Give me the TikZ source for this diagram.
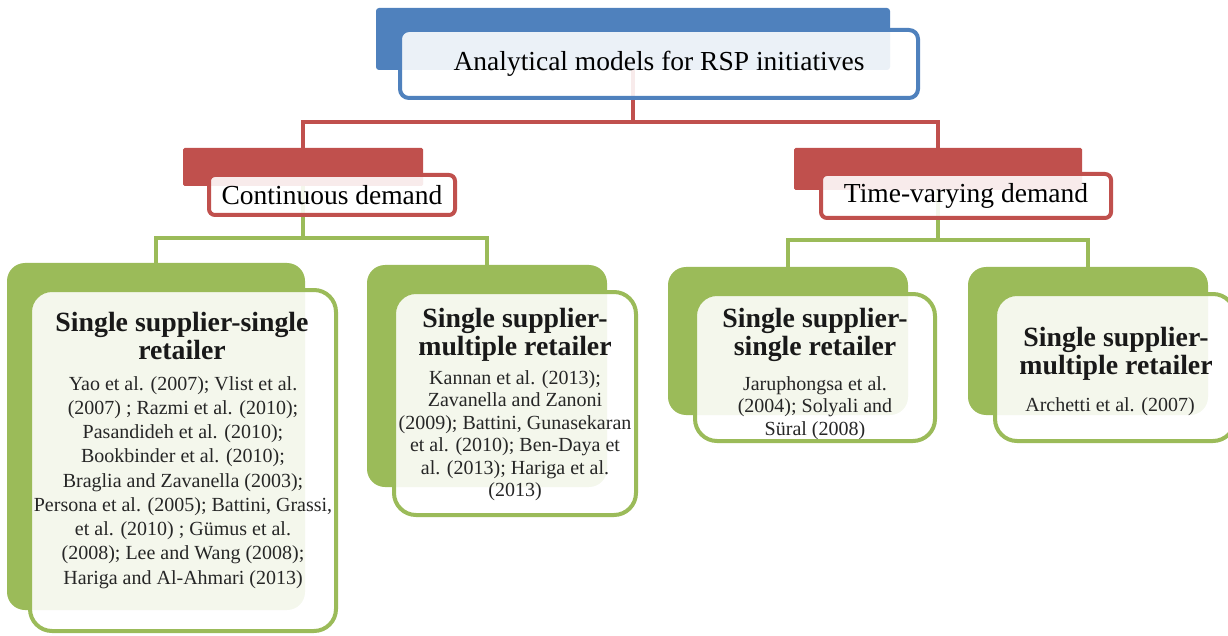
\documentclass[tikz,border=0pt]{standalone}
\usepackage{fontspec}
\setmainfont{Liberation Serif}
\definecolor{ablue}{HTML}{4F81BD}
\definecolor{ared}{HTML}{C0504D}
\definecolor{agreen}{HTML}{9BBB59}
\tikzset{
  bk/.style={inner sep=0pt, outer sep=0pt, draw=none},
  bluebk/.style={bk, fill=ablue, rounded corners=3pt},
  redbk/.style={bk, fill=ared, rounded corners=1.5pt},
  greenbk/.style={bk, fill=agreen, rounded corners=18pt},
  front/.style={inner sep=0pt, outer sep=0pt, fill=white, fill opacity=0.89, text opacity=1, line width=4pt, align=center},
  bluefr/.style={front, draw=ablue, rounded corners=9pt},
  redfr/.style={front, draw=ared, rounded corners=6pt},
  greenfr/.style={front, draw=agreen, rounded corners=22pt},
  redline/.style={draw=ared, line width=4pt},
  greenline/.style={draw=agreen, line width=4pt},
  headfont/.style={font=\fontsize{27.5}{30}\selectfont},
  ttlfont/.style={inner sep=0pt, anchor=north, align=center, text=black!90, font=\fontsize{27.8}{28.5}\selectfont\bfseries},
  bodyfont/.style={inner sep=0pt, anchor=north, align=center, text=black!85, font=\fontsize{20}{#1}\selectfont},
}
\begin{document}
\begin{tikzpicture}[x=1pt,y=-1pt]
\useasboundingbox (0,0) rectangle (1228,636);
% back shapes
\node[bluebk, minimum width=514pt, minimum height=62pt] (topb) at (633,39) {};
\node[redbk, minimum width=240pt, minimum height=38pt] (cdb) at (303,167) {};
\node[redbk, minimum width=288pt, minimum height=42pt] (tvb) at (938,169) {};
\node[greenbk, minimum width=298pt, minimum height=347pt] (b1b) at (156,436.5) {};
\node[greenbk, minimum width=240pt, minimum height=222pt] (b2b) at (487,376) {};
\node[greenbk, minimum width=240pt, minimum height=148pt] (b3b) at (788,341) {};
\node[greenbk, minimum width=240pt, minimum height=148pt] (b4b) at (1088,341) {};
% connectors
\coordinate (rj) at (633,122);
\coordinate (gl) at (303,238);
\coordinate (gr) at (938,240);
\draw[redline] (topb.south) -- (rj) -| (cdb.north);
\draw[redline] (rj) -| (tvb.north);
\draw[greenline] (cdb.south) -- (gl) -| (b1b.north);
\draw[greenline] (gl) -| (b2b.north);
\draw[greenline] (tvb.south) -- (gr) -| (b3b.north);
\draw[greenline] (gr) -| (b4b.north);
% front shapes
\node[bluefr, headfont, minimum width=518pt, minimum height=68pt] (topf) at (659,64) {Analytical models for RSP initiatives};
\node[redfr, headfont, minimum width=246pt, minimum height=40pt] (cdf) at (332,195) {Continuous demand};
\node[redfr, headfont, minimum width=290pt, minimum height=44pt] (tvf) at (966,196) {Time-varying demand};
\node[greenfr, minimum width=306pt, minimum height=341pt] (b1f) at (183,460.5) {};
\node[greenfr, minimum width=242pt, minimum height=223pt] (b2f) at (515,403.5) {};
\node[greenfr, minimum width=240pt, minimum height=147pt] (b3f) at (815,367.5) {};
\node[greenfr, minimum width=240pt, minimum height=147pt] (b4f) at (1115,367.5) {};
% texts
\node[ttlfont] (b1t) at (182,312) {Single supplier-single\\retailer};
\node[bodyfont=24.25] (b1x) at (183,376) {Yao et al. (2007); Vlist et al.\\(2007) ; Razmi et al. (2010);\\Pasandideh et al. (2010);\\Bookbinder et al. (2010);\\Braglia and Zavanella (2003);\\Persona et al. (2005); Battini, Grassi,\\et al. (2010) ; G\"umus et al.\\(2008); Lee and Wang (2008);\\Hariga and Al-Ahmari (2013)};
\node[ttlfont] (b2t) at (515,308) {Single supplier-\\multiple retailer};
\node[bodyfont=22.5] (b2x) at (515,370) {Kannan et al. (2013);\\Zavanella and Zanoni\\(2009); Battini, Gunasekaran\\et al. (2010); Ben-Daya et\\al. (2013); Hariga et al.\\(2013)};
\node[ttlfont] (b3t) at (815,308) {Single supplier-\\single retailer};
\node[bodyfont=22.5] (b3x) at (815,376) {Jaruphongsa et al.\\(2004); Solyali and\\S\"ural (2008)};
\node[ttlfont] (b4t) at (1116,327) {Single supplier-\\multiple retailer};
\node[bodyfont=22] (b4x) at (1110,397) {Archetti et al. (2007)};
\end{tikzpicture}
\end{document}
